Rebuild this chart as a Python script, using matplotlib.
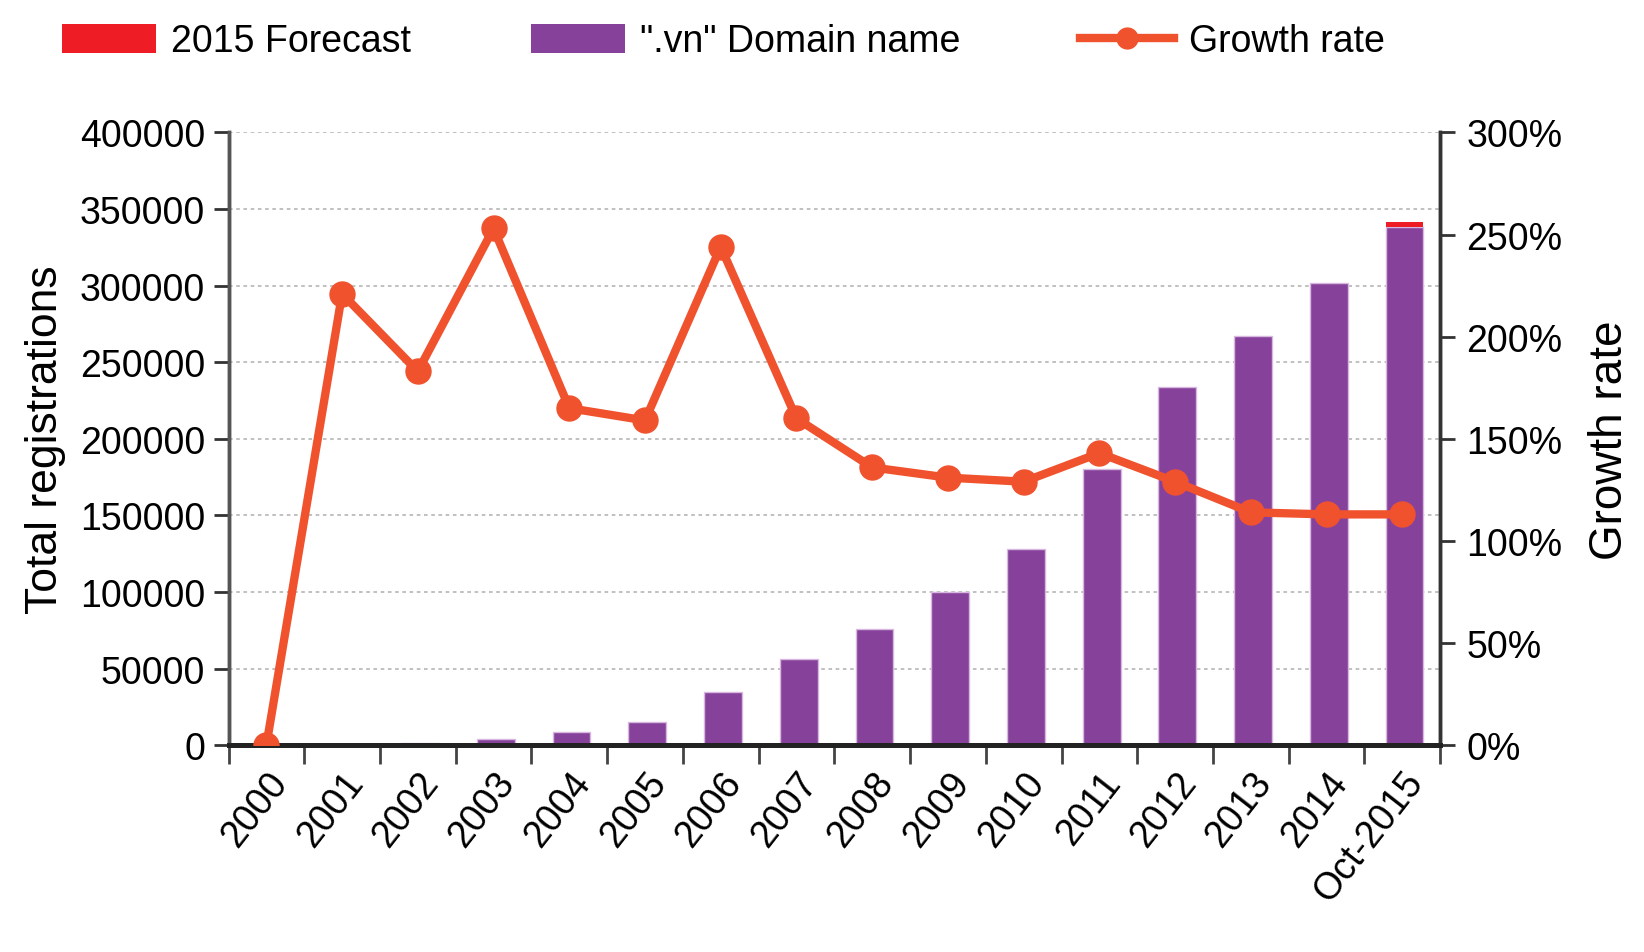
import numpy as np
import matplotlib.pyplot as plt
from matplotlib.lines import Line2D
from matplotlib.patches import Patch
from matplotlib.ticker import FuncFormatter

# --- Data ---
years = ["2000", "2001", "2002", "2003", "2004", "2005", "2006", "2007",
         "2008", "2009", "2010", "2011", "2012", "2013", "2014", "Oct-2015"]
domains = [0, 300, 1500, 4000, 8500, 15000, 35000, 56000,
           76000, 100000, 128000, 180000, 234000, 267000, 301500, 338000]
forecast = [0, 0, 0, 0, 0, 0, 0, 0, 0, 0, 0, 0, 0, 0, 0, 3500]
growth = [0, 221, 183, 253, 165, 159, 244, 160,
          136, 131, 129, 143, 129, 114, 113, 113]

# --- Style ---
PURPLE = "#86429A"
RED = "#EE1C25"
ORANGE = "#F0522E"
plt.rcParams["font.family"] = ["Liberation Sans", "DejaVu Sans"]
FS = 27

fig = plt.figure(figsize=(16.44, 9.53), dpi=100)
ax = fig.add_axes([0.139, 0.217, 0.737, 0.643])
ax2 = ax.twinx()

x = np.arange(len(years))
ax.bar(x + 0.03, domains, width=0.5, color=PURPLE, edgecolor="#D8B8E0",
       linewidth=1.0, zorder=2)
ax.bar(x + 0.03, forecast, width=0.5, bottom=domains, color=RED,
       linewidth=0, zorder=2)

ax2.plot(x, growth, color=ORANGE, lw=6, marker="o", ms=18,
         solid_joinstyle="round", zorder=3)

# --- Axes ---
ax.set_xlim(-0.5, len(years) - 0.5)
ax.set_ylim(0, 400000)
ax2.set_ylim(0, 300)
ax.set_yticks(np.arange(0, 400001, 50000))
ax2.set_yticks(np.arange(0, 301, 50))
ax2.yaxis.set_major_formatter(FuncFormatter(lambda v, p: f"{v:.0f}%"))

ax.yaxis.grid(True, linestyle=(0, (2, 2)), color="#BBBBBB", lw=1.3)
ax.set_axisbelow(True)

# category boundaries as major ticks, labels on minor ticks
ax.set_xticks(np.arange(-0.5, len(years), 1.0))
ax.set_xticklabels([])
ax.set_xticks(x, minor=True)
ax.set_xticklabels(years, minor=True, rotation=52, ha="right",
                   rotation_mode="anchor", fontsize=FS)
ax.tick_params(axis="x", which="major", length=14, width=2, color="#444444")
ax.tick_params(axis="x", which="minor", length=0, pad=14)
ax.tick_params(axis="y", labelsize=FS, length=11, width=2, color="#333333", pad=6)
ax2.tick_params(axis="y", labelsize=FS, length=11, width=2, color="#333333", pad=8)

for a in (ax, ax2):
    a.spines["top"].set_visible(False)
    a.spines["left"].set_color("#555555")
    a.spines["left"].set_linewidth(2.5)
    a.spines["right"].set_color("#333333")
    a.spines["right"].set_linewidth(2.5)
    a.spines["bottom"].set_color("#222222")
    a.spines["bottom"].set_linewidth(3.5)

ax.set_ylabel("Total registrations", fontsize=32, labelpad=10)
ax2.set_ylabel("Growth rate", fontsize=33, labelpad=18, rotation=90)

# --- Legend ---
handles = [
    Patch(facecolor=RED, edgecolor="none", label="2015 Forecast"),
    Patch(facecolor=PURPLE, edgecolor="none", label='".vn" Domain name'),
    Line2D([0], [0], color=ORANGE, lw=6, marker="o", ms=15, label="Growth rate"),
]
fig.legend(handles=handles, loc="upper center", bbox_to_anchor=(0.44, 1.01),
           ncol=3, frameon=False, fontsize=FS, handlelength=2.5,
           handleheight=0.8, columnspacing=3.2, handletextpad=0.4)

fig.savefig("out.png", dpi=100)
